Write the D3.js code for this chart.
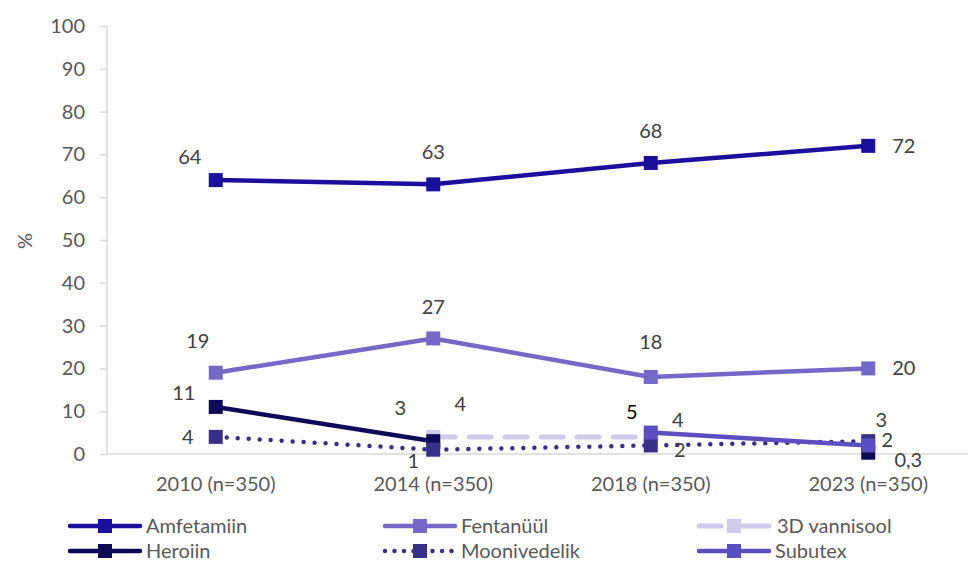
<!DOCTYPE html>
<html><head><meta charset="utf-8">
<script src="https://cdn.jsdelivr.net/npm/d3@7"></script>
<style>body{margin:0;background:#fff}svg text{font-family:Lato,"Open Sans",sans-serif}</style>
</head><body><svg id="c" width="968" height="562"></svg>
<script>
const categories = ["2010 (n=350)","2014 (n=350)","2018 (n=350)","2023 (n=350)"];
const seriesNames = ["Amfetamiin","Fentanüül","3D vannisool","Heroiin","Moonivedelik","Subutex"];
const amfetamiin   = [64, 63, 68, 72];
const fentanyyl    = [19, 27, 18, 20];
const vannisool3D  = [null, 4, 4, null];
const heroiin      = [11, 3, null, 0.3];
const moonivedelik = [4, 1, 2, 3];
const subutex      = [null, null, 5, 2];
const yTicks = [0,10,20,30,40,50,60,70,80,90,100];

const seriesValues = [amfetamiin, fentanyyl, vannisool3D, heroiin, moonivedelik, subutex];
const colors = ["#1b0f9e","#7569c7","#cfcceb","#0e0a58","#3a2f88","#5b4ec0"];
const styles = ["solid","solid","dashed","solid","dotted","solid"];
const FS = 20;
// label offsets [dx, dy, anchor, color]
const G = "#404040";
const labelPos = [
  [[-26,-23,"middle",G],[0,-32,"middle",G],[0,-32,"middle",G],[24,0,"start",G]],
  [[-18,-32,"middle",G],[0,-31,"middle",G],[0,-35,"middle",G],[24,0,"start",G]],
  [null,[27,-33,"middle",G],[27,-17,"middle",G],null],
  [[-32,-14,"middle",G],[-33,-33,"middle",G],null,[40,7,"middle",G]],
  [[-28,0,"middle",G],[-20,11,"middle",G],[29,5,"middle",G],[13,-21,"middle",G]],
  [null,null,[-19,-21,"middle","#000000"],[19,-5,"middle",G]]
];

const svg = d3.select("#c");
const x = d3.scaleBand().domain(categories).range([107, 977]);
const y = d3.scaleLinear().domain([0,100]).range([454, 26]);

// axes
const yAxis = svg.append("g").attr("transform","translate(107,0)")
  .call(d3.axisLeft(y).tickValues(yTicks).tickSize(7).tickPadding(15));
yAxis.select(".domain").attr("stroke","#d9d9d9").attr("stroke-width",1.5).attr("d","M0,26V454");
yAxis.selectAll(".tick line").attr("stroke","#d9d9d9").attr("stroke-width",1.5);
yAxis.selectAll(".tick text").attr("fill","#595959").attr("font-size",FS);

const xAxis = svg.append("g").attr("transform","translate(0,454)")
  .call(d3.axisBottom(x).tickSize(0).tickPadding(23));
xAxis.select(".domain").attr("stroke","#d9d9d9").attr("stroke-width",1.5).attr("d","M107,0H968");
xAxis.selectAll(".tick text").attr("fill","#595959").attr("font-size",FS);

svg.append("text").attr("transform","translate(25,241) rotate(-90)")
  .attr("text-anchor","middle").attr("dy","0.35em").attr("fill","#595959").attr("font-size",FS).text("%");

const cx = c => x(c) + x.bandwidth()/2;
const line = d3.line().defined(d => d.v != null).x(d => cx(d.c)).y(d => y(d.v));

function strokeStyle(sel, i){
  sel.attr("stroke", colors[i]).attr("fill","none");
  if (styles[i] === "dashed") sel.attr("stroke-width",5).attr("stroke-dasharray","22,14").attr("stroke-linecap","round");
  else if (styles[i] === "dotted") sel.attr("stroke-width",4.5).attr("stroke-dasharray","0,11").attr("stroke-linecap","round");
  else sel.attr("stroke-width",4.5).attr("stroke-linejoin","round").attr("stroke-linecap","round");
}

const drawOrder = [2,0,1,3,4,5];
drawOrder.forEach(i => {
  const pts = categories.map((c,j) => ({c, v: seriesValues[i][j]}));
  svg.append("path").datum(pts).attr("d", line).call(strokeStyle, i);
  svg.selectAll(null).data(pts.filter(d => d.v != null)).enter().append("rect")
    .attr("x", d => cx(d.c) - 7).attr("y", d => y(d.v) - 7)
    .attr("width", 14).attr("height", 14).attr("fill", colors[i]);
});

const fmt = v => String(v).replace(".", ",");
seriesValues.forEach((vals, i) => {
  vals.forEach((v, j) => {
    if (v == null) return;
    const p = labelPos[i][j];
    svg.append("text").attr("x", cx(categories[j]) + p[0]).attr("y", y(v) + p[1])
      .attr("dy","0.35em").attr("text-anchor", p[2])
      .attr("fill", p[3]).attr("font-size",FS).text(fmt(v));
  });
});

// legend
const legX = [70, 385, 699];
const legY = [526, 551];
seriesNames.forEach((n, i) => {
  const lx = legX[i % 3], ly = legY[Math.floor(i / 3)];
  const g = svg.append("g");
  const p = g.append("path").attr("d", `M${lx},${ly}H${lx+70}`).call(strokeStyle, i);
  if (styles[i]==="dashed") p.attr("stroke-dasharray","22,14,34");
  if (styles[i]==="dotted") p.attr("stroke-dasharray","0,9.5");
  g.append("rect").attr("x", lx+28).attr("y", ly-7).attr("width",14).attr("height",14).attr("fill", colors[i]);
  g.append("text").attr("x", lx + (styles[i]==="dashed" ? 78 : 76)).attr("y", ly).attr("dy","0.35em")
    .attr("fill","#595959").attr("font-size",FS).text(n);
});
</script></body></html>
